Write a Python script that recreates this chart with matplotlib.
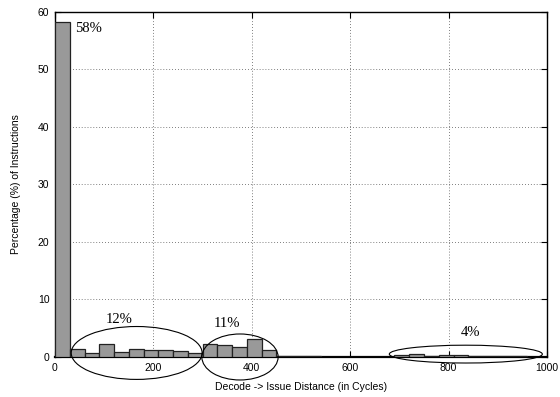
import numpy as np
import matplotlib.pyplot as plt
from matplotlib.patches import Ellipse

# histogram of decode -> issue distance, 30-cycle bins
bin_starts = list(range(0, 990, 30))
percent = [58.2, 1.34, 0.64, 2.3, 0.93, 1.34, 1.16, 1.16, 1.1, 0.75,
           2.26, 2.0, 1.68, 3.13, 1.28, 0.12, 0.1, 0.1, 0.08, 0.06,
           0.06, 0.05, 0.05, 0.3, 0.57, 0.2, 0.35, 0.35, 0.2, 0.2,
           0.15, 0.25, 0.0]
bin_width = 30

# circled groups: (label, text x, text y, ellipse centre, width, height)
groups = [
    ("12%", 130, 6.6, (166, 0.7), 266, 9.2),
    ("11%", 350, 5.9, (376, 0.0), 155, 8.0),
    ("4%", 845, 4.2, (835, 0.5), 311, 3.1),
]

plt.rcParams['font.family'] = ['Liberation Sans', 'DejaVu Sans']

fig = plt.figure(figsize=(5.6, 3.97), dpi=100)
ax = fig.add_axes([0.0982, 0.1008, 0.8786, 0.869])

ax.bar(bin_starts, percent, width=bin_width, align='edge',
       color='#999999', edgecolor='#222222', linewidth=0.9, zorder=3)

ax.set_xlim(0, 1000)
ax.set_ylim(0, 60)
ax.set_xticks([0, 200, 400, 600, 800, 1000])
ax.set_yticks([0, 10, 20, 30, 40, 50, 60])
ax.tick_params(direction='in', top=True, right=True, labelsize=7.5, length=4, width=0.8, pad=4)
ax.grid(True, linestyle=(0, (1, 2.5)), color='#555555', linewidth=0.6, zorder=0)
for s in ax.spines.values():
    s.set_linewidth(1.0)
ax.spines['bottom'].set_linewidth(1.6)

ax.set_xlabel("Decode -> Issue Distance (in Cycles)", fontsize=7.5, labelpad=7)
ax.set_ylabel("Percentage (%) of Instructions", fontsize=7.5, labelpad=12)

serif = ['Liberation Serif', 'DejaVu Serif']
ax.text(41, 57.2, "58%", family=serif, fontsize=10.5, ha='left', va='center')
for label, tx, ty, c, w, h in groups:
    ax.text(tx, ty, label, family=serif, fontsize=10.5, ha='center', va='center')
    ax.add_patch(Ellipse(c, w, h, fill=False, edgecolor='black',
                         linewidth=0.8, clip_on=False, zorder=4))

fig.savefig("out.png", dpi=100)
